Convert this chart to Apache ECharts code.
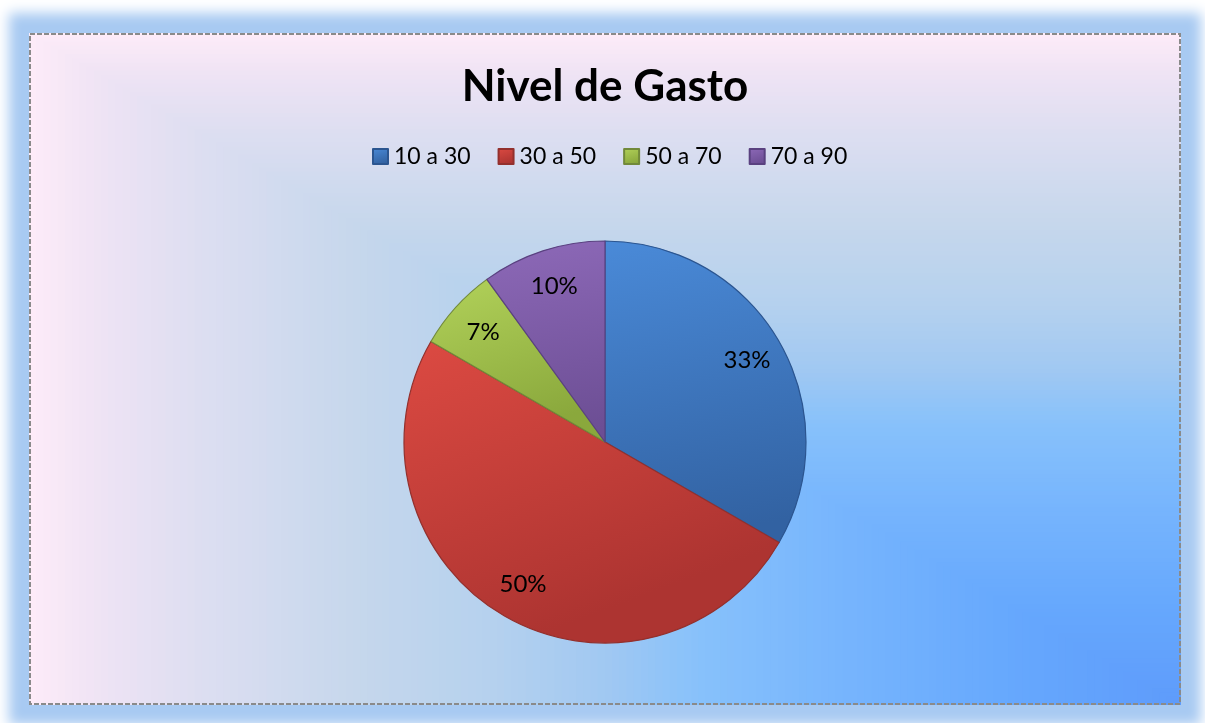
<!DOCTYPE html>
<html>
<head>
<meta charset="utf-8">
<script src="https://cdn.jsdelivr.net/npm/echarts@6/dist/echarts.min.js"></script>
<style>
    html, body { margin: 0; padding: 0; background: #ffffff; }
    #chart {
        position: absolute;
        left: 29px; top: 33px;
        width: 1152px; height: 672px;
        box-shadow: 0 0 12px 20px #a8caf2;
    }
</style>
</head>
<body>
<div id="chart"></div>
<script>
// datos del grafico
const categories = ['10 a 30', '30 a 50', '50 a 70', '70 a 90'];
const values = [10, 15, 2, 3];
const titleText = 'Nivel de Gasto';

// colores tipo Excel (claro arriba, oscuro abajo)
const sliceColors = [
    ['#4a8ad8', '#3262a2'],
    ['#dc4a42', '#ad3431'],
    ['#b2d25a', '#8aa83c'],
    ['#8d69b8', '#6c4e94']
];
const sliceBorders = ['#2b5590', '#93302d', '#71893a', '#5a4180'];

const W = 1152, H = 672;

// fondo: degradado rectangular desde la esquina inferior derecha
const bgStops = [
    [0, '#5e9bfb'], [0.15, '#66a8fd'], [0.3, '#77b5fd'], [0.42, '#87c1fb'],
    [0.5, '#a0c8f2'], [0.6, '#b5d1ee'], [0.72, '#c6d7ec'], [0.85, '#dcdef1'],
    [0.94, '#eee3f4'], [1, '#fdebf8']
];

function hex2rgb(h) {
    return [parseInt(h.substr(1, 2), 16), parseInt(h.substr(3, 2), 16), parseInt(h.substr(5, 2), 16)];
}
function colorAt(t) {
    for (let i = 1; i < bgStops.length; i++) {
        if (t <= bgStops[i][0]) {
            const a = bgStops[i - 1], b = bgStops[i];
            const k = (t - a[0]) / (b[0] - a[0]);
            const ca = hex2rgb(a[1]), cb = hex2rgb(b[1]);
            const c = ca.map((v, j) => Math.round(v + (cb[j] - v) * k));
            return 'rgb(' + c.join(',') + ')';
        }
    }
    return bgStops[bgStops.length - 1][1];
}

const bgRects = [];
const steps = 160;
for (let i = steps; i >= 1; i--) {
    const t = i / steps;
    bgRects.push({
        type: 'rect',
        silent: true,
        z: -10,
        shape: { x: W - t * W, y: H - t * H, width: t * W, height: t * H },
        style: { fill: colorAt(t) }
    });
}
// borde punteado del area del grafico
bgRects.push({
    type: 'rect',
    silent: true,
    z: 100,
    shape: { x: 1, y: 1, width: W - 2, height: H - 2 },
    style: { fill: 'none', stroke: '#8a8a8a', lineWidth: 2, lineDash: [5, 2] }
});

const pieData = categories.map((name, i) => ({
    name: name,
    value: values[i],
    itemStyle: {
        color: {
            type: 'linear', x: 0, y: 0, x2: 0.3, y2: 1,
            colorStops: [
                { offset: 0, color: sliceColors[i][0] },
                { offset: 1, color: sliceColors[i][1] }
            ]
        },
        borderColor: sliceBorders[i],
        borderWidth: 1.2
    }
}));

const labelData = categories.map((name, i) => ({ name: name, value: values[i] }));

const chart = echarts.init(document.getElementById('chart'));
chart.setOption({
    animation: false,
    graphic: bgRects,
    title: {
        text: titleText,
        left: 'center',
        top: 27,
        textStyle: { fontFamily: 'Lato', fontWeight: 'bold', fontSize: 44, color: '#000' }
    },
    legend: {
        data: categories,
        top: 112,
        left: 343,
        padding: 0,
        itemWidth: 15,
        itemHeight: 15,
        itemGap: 27,
        icon: 'rect',
        textStyle: { fontFamily: 'Lato', fontSize: 23, color: '#000', padding: [0, 0, 0, 1] }
    },
    series: [
        {
            type: 'pie',
            center: ['50%', 409],
            radius: [0, 201],
            startAngle: 90,
            clockwise: true,
            label: { show: false },
            labelLine: { show: false },
            emphasis: { disabled: true },
            data: pieData
        },
        {
            // serie transparente solo para colocar las etiquetas
            type: 'pie',
            center: ['50%', 409],
            radius: [121, 201],
            startAngle: 90,
            clockwise: true,
            silent: true,
            legendHoverLink: false,
            itemStyle: { color: 'transparent' },
            label: {
                show: true,
                position: 'inside',
                formatter: p => Math.round(p.percent) + '%',
                fontFamily: 'Lato',
                fontSize: 24,
                color: '#000'
            },
            labelLine: { show: false },
            data: labelData
        }
    ]
});
</script>
</body>
</html>
